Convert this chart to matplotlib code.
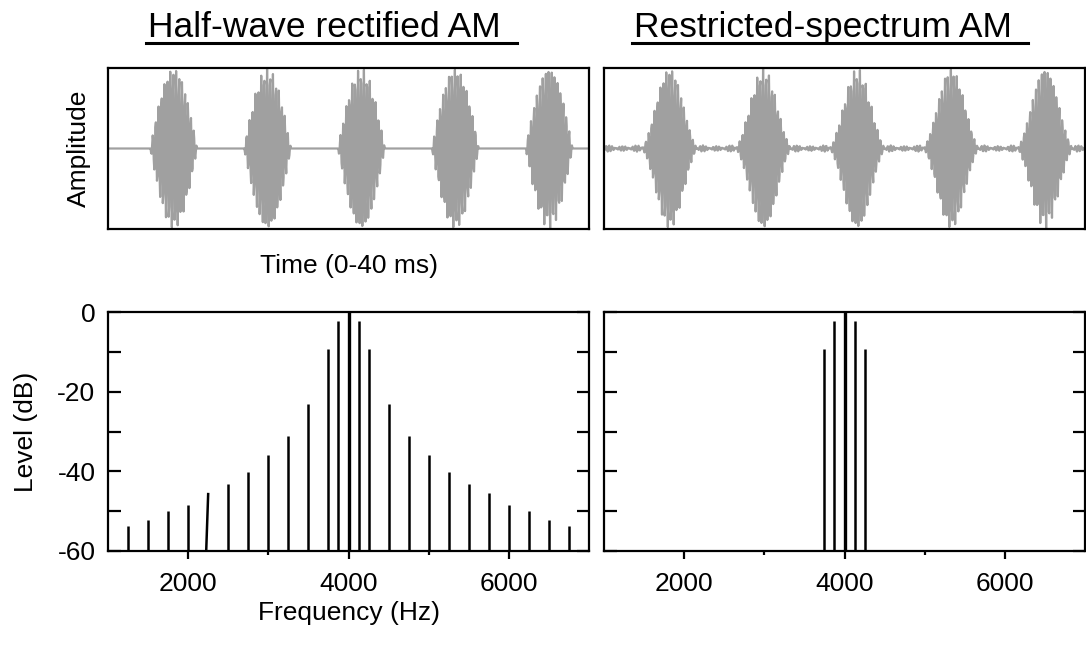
"""Half-wave rectified AM vs restricted-spectrum AM: waveforms and line spectra."""
import numpy as np
import matplotlib
matplotlib.use("Agg")
import matplotlib.pyplot as plt
from matplotlib.lines import Line2D

plt.rcParams["font.family"] = ["Liberation Sans", "DejaVu Sans"]
plt.rcParams["axes.unicode_minus"] = False

# ---- data ----
CARRIER_HZ = 4000
MOD_HZ = 125
TIME_MS = (0, 41)
SAMPLE_RATE = 22050

# half-wave rectified AM: carrier + sidebands at fc +/- 125, 250, 500, 750 ... 2750 Hz
hw_freqs = [1250, 1500, 1750, 2000, 2250, 2500, 2750, 3000, 3250, 3500, 3750, 3875,
            4000,
            4125, 4250, 4500, 4750, 5000, 5250, 5500, 5750, 6000, 6250, 6500, 6750]
hw_levels = [-53.8, -52.2, -50.0, -48.4, -45.4, -43.2, -40.1, -36.0, -31.1, -23.2, -9.4, -2.2,
             0.0,
             -2.2, -9.4, -23.2, -31.1, -36.0, -40.1, -43.2, -45.4, -48.4, -50.0, -52.2, -53.8]
# foot of each line (one line in the original is drawn slanted)
hw_base = [1250, 1500, 1750, 2000, 2225, 2500, 2750, 3000, 3250, 3500, 3750, 3875,
           4000,
           4125, 4250, 4500, 4750, 5000, 5250, 5500, 5750, 6000, 6250, 6500, 6750]

rs_freqs = [3750, 3875, 4000, 4125, 4250]
rs_levels = [-9.4, -2.2, 0.0, -2.2, -9.4]

titles = ["Half-wave rectified AM ", "Restricted-spectrum AM "]
freq_ticks = [2000, 4000, 6000]
level_ticks = [0, -20, -40, -60]

GREY = "#a0a0a0"
FS = 19

# ---- waveforms ----
t = np.arange(TIME_MS[0], TIME_MS[1], 1000.0 / SAMPLE_RATE)  # ms
ts = t / 1000.0
phase = 2 * np.pi * MOD_HZ * ts - 0.9 * np.pi
mod_hw = np.maximum(0.0, np.sin(phase))
wave_hw = mod_hw * np.sin(2 * np.pi * CARRIER_HZ * ts)
# restricted spectrum: keep DC, fundamental and 2nd harmonic of the rectified modulator
mod_rs = 1 / np.pi + 0.5 * np.sin(phase) - (2 / (3 * np.pi)) * np.cos(2 * phase)
wave_rs = mod_rs * np.sin(2 * np.pi * CARRIER_HZ * ts)

fig = plt.figure(figsize=(10.86, 6.5), dpi=100)
W, H = 1086, 650


def px_axes(x0, y0, x1, y1):
    return fig.add_axes([x0 / W, 1 - y1 / H, (x1 - x0) / W, (y1 - y0) / H])


ax_w1 = px_axes(108, 68, 589, 229)
ax_w2 = px_axes(604, 68, 1085, 229)
ax_s1 = px_axes(108, 312, 589, 551)
ax_s2 = px_axes(604, 312, 1085, 551)

for ax, w in [(ax_w1, wave_hw), (ax_w2, wave_rs)]:
    ax.plot(t, w, color=GREY, lw=1.6)
    ax.set_xlim(*TIME_MS)
    m = np.abs(w).max() * 1.01
    ax.set_ylim(-m, m)
    ax.set_xticks([])
    ax.set_yticks([])
    for s in ax.spines.values():
        s.set_linewidth(1.6)

ax_w1.set_ylabel("Amplitude", fontsize=FS, labelpad=12)
ax_w1.set_xlabel("Time (0-40 ms)", fontsize=FS, labelpad=18)

# ---- spectra ----
for f, lv, b in zip(hw_freqs, hw_levels, hw_base):
    lw = 2.4 if f == CARRIER_HZ else 1.8
    ax_s1.plot([b, f], [-60, lv], color="black", lw=lw, solid_capstyle="butt")
for f, lv in zip(rs_freqs, rs_levels):
    lw = 2.4 if f == CARRIER_HZ else 1.8
    ax_s2.plot([f, f], [-60, lv], color="black", lw=lw, solid_capstyle="butt")

for ax in (ax_s1, ax_s2):
    ax.set_xlim(1000, 7000)
    ax.set_ylim(-60, 0)
    ax.set_xticks(freq_ticks)
    ax.set_xticks([3000, 5000], minor=True)
    ax.set_yticks(level_ticks)
    ax.set_yticks([-10, -30, -50], minor=True)
    ax.tick_params(axis="x", which="major", direction="out", length=6, width=1.6,
                   labelsize=FS, pad=9)
    ax.tick_params(axis="x", which="minor", direction="out", length=3, width=1.6)
    ax.tick_params(axis="y", which="both", direction="in", length=9, width=1.6,
                   left=True, right=True, labelsize=FS, pad=9)
    for s in ax.spines.values():
        s.set_linewidth(1.6)

ax_s2.tick_params(axis="y", labelleft=False)
ax_s1.set_ylabel("Level (dB)", fontsize=FS, labelpad=14)
ax_s1.set_xlabel("Frequency (Hz)", fontsize=FS, labelpad=4)

# ---- underlined titles ----
for (x0, x1), title in zip([(146, 517), (632, 1028)], titles):
    fig.text((x0 + 2) / W, 1 - 37 / H, title, fontsize=25.5, ha="left", va="baseline")
    fig.add_artist(Line2D([x0 / W, x1 / W], [1 - 43 / H, 1 - 43 / H],
                          color="black", lw=2.2, transform=fig.transFigure))

fig.savefig("out.png", dpi=100)
